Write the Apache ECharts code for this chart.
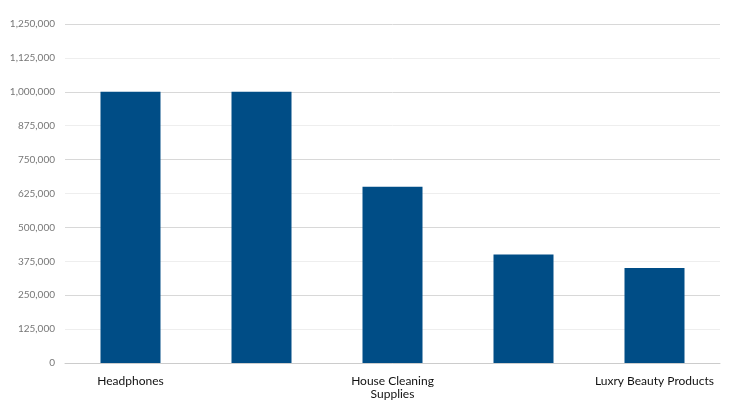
<!DOCTYPE html>
<html>
<head>
<meta charset="UTF-8">
<script src="https://cdn.jsdelivr.net/npm/echarts@6/dist/echarts.min.js"></script>
<style>html,body{margin:0;background:#fff}#main{width:740px;height:410px}</style>
</head>
<body>
<div id="main"></div>
<script>
var categories = ['Headphones', 'Toys', 'House Cleaning\nSupplies', 'Pet Products', 'Luxry Beauty Products'];
var values = [1000000, 1000000, 650000, 400000, 350000];

var chart = echarts.init(document.getElementById('main'));
chart.setOption({
    animation: false,
    grid: { left: 65, right: 20, top: 24, bottom: 47 },
    xAxis: {
        type: 'category',
        data: categories,
        axisTick: { show: false },
        axisLine: { lineStyle: { color: '#ccc' } },
        axisLabel: { color: '#111', fontFamily: 'Lato', fontSize: 12, margin: 12, lineHeight: 13 }
    },
    yAxis: {
        type: 'value',
        min: 0,
        max: 1250000,
        interval: 125000,
        axisLabel: { color: '#777', fontFamily: 'Lato', fontSize: 10, margin: 10 },
        splitLine: { lineStyle: { color: ['#d8d8d8', '#eeeeee'] } }
    },
    series: [{
        type: 'bar',
        data: values,
        barWidth: 60,
        itemStyle: { color: '#004d86' }
    }]
});
</script>
</body>
</html>
